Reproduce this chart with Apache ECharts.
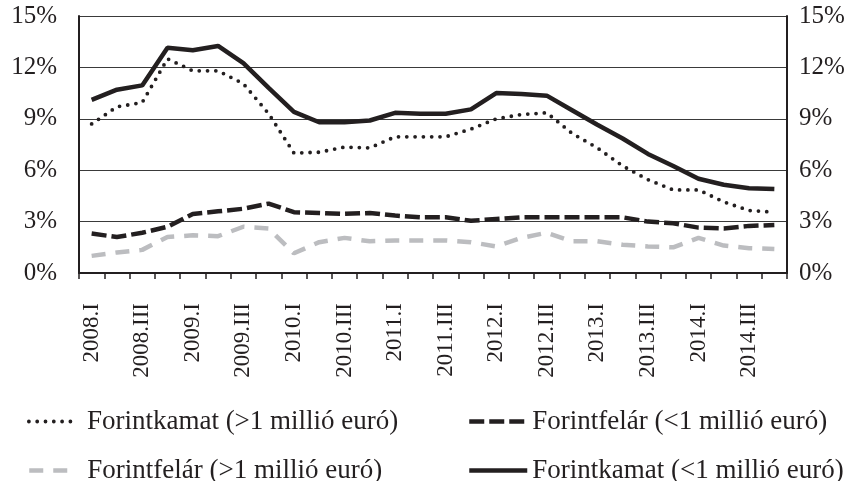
<!DOCTYPE html>
<html>
<head>
<meta charset="utf-8">
<script src="https://cdn.jsdelivr.net/npm/echarts@6/dist/echarts.min.js"></script>
<style>
    html, body { margin: 0; padding: 0; background: #fff; }
    #chart { width: 856px; height: 481px; }
</style>
</head>
<body>
<div id="chart"></div>
<script>
// quarters 2008.I - 2014.IV
var years = ["2008", "2009", "2010", "2011", "2012", "2013", "2014"];
var quarters = ["I", "II", "III", "IV"];
var categories = [];
for (var y = 0; y < years.length; y++) {
    for (var q = 0; q < quarters.length; q++) {
        categories.push(years[y] + "." + quarters[q]);
    }
}

var kamatNagy = [8.7, 9.7, 9.95, 12.5, 11.8, 11.8, 11.05, 9.3, 7.0, 7.05, 7.35, 7.3, 7.95, 7.95,
    7.95, 8.4, 9.0, 9.25, 9.35, 8.15, 7.3, 6.25, 5.45, 4.85, 4.85, 4.15, 3.65, 3.55];
var felarKicsi = [2.3, 2.1, 2.35, 2.7, 3.45, 3.6, 3.75, 4.05, 3.55, 3.5, 3.45, 3.5, 3.35, 3.25,
    3.25, 3.05, 3.15, 3.25, 3.25, 3.25, 3.25, 3.25, 3.0, 2.9, 2.65, 2.6, 2.75, 2.8];
var felarNagy = [1.0, 1.2, 1.35, 2.1, 2.2, 2.15, 2.7, 2.6, 1.15, 1.8, 2.05, 1.85, 1.9, 1.9,
    1.9, 1.8, 1.55, 2.05, 2.35, 1.85, 1.85, 1.65, 1.55, 1.5, 2.05, 1.6, 1.45, 1.4];
var kamatKicsi = [10.1, 10.7, 10.95, 13.15, 13.0, 13.25, 12.25, 10.8, 9.4, 8.8, 8.8, 8.9, 9.35, 9.3,
    9.3, 9.55, 10.5, 10.45, 10.35, 9.5, 8.65, 7.85, 6.95, 6.25, 5.5, 5.15, 4.95, 4.9];

var names = ["Forintkamat (>1 millió euró)", "Forintfelár (<1 millió euró)",
    "Forintfelár (>1 millió euró)", "Forintkamat (<1 millió euró)"];

var serif = "'Liberation Serif', 'DejaVu Serif', serif";
var textColor = "#231f20";
var black = "#231f20";
var grey = "#bcbdc0";

// line styles shared by series and legend icons
var styles = [
    { color: black, width: 3.8, type: [0, 8.3], cap: "round" },
    { color: black, width: 4.5, type: [15, 5] },
    { color: grey, width: 4.5, type: [14, 10] },
    { color: black, width: 4.5 }
];

var myChart = echarts.init(document.getElementById("chart"));

var yAxisBase = function (pos, margin) {
    return {
        type: "value",
        position: pos,
        min: 0,
        max: 15,
        interval: 3,
        axisLine: { show: true, lineStyle: { color: black, width: 2 } },
        axisTick: { show: false },
        splitLine: { show: pos == "left", lineStyle: { color: "#3a3a3a", width: 1.2 } },
        axisLabel: {
            color: textColor,
            fontFamily: serif,
            fontSize: 25,
            margin: margin,
            formatter: "{value}%"
        }
    };
};

// one legend box per entry, two rows by two columns
var legendBox = function (i, left, top, w, pad) {
    return {
        left: left,
        top: top,
        itemWidth: w,
        itemHeight: 14,
        itemStyle: { opacity: 0 },
        data: [{
            name: names[i],
            lineStyle: styles[i],
            itemStyle: { opacity: 0 },
            textStyle: { color: textColor, fontFamily: serif, fontSize: 27, lineHeight: 26, padding: [0, 0, 0, pad] }
        }]
    };
};

var option = {
    animation: false,
    grid: { left: 79, right: 69, top: 16, bottom: 208 },
    legend: [
        legendBox(0, 22, 403, 45, 8),
        legendBox(1, 462, 403, 58, 0),
        legendBox(2, 22, 452, 45, 8),
        legendBox(3, 462, 452, 58, 0)
    ],
    xAxis: {
        type: "category",
        boundaryGap: true,
        data: categories,
        axisLine: { lineStyle: { color: black, width: 2 } },
        axisTick: { show: true, interval: 0, length: 6, lineStyle: { color: black, width: 1.5 } },
        axisLabel: {
            interval: 1,
            rotate: 90,
            color: textColor,
            fontFamily: serif,
            fontSize: 23,
            margin: 30
        }
    },
    yAxis: [yAxisBase("left", 22), yAxisBase("right", 12)],
    series: [
        { name: names[0], type: "line", data: kamatNagy, symbol: "none", lineStyle: styles[0], itemStyle: { color: black } },
        { name: names[1], type: "line", data: felarKicsi, symbol: "none", lineStyle: styles[1], itemStyle: { color: black } },
        { name: names[2], type: "line", data: felarNagy, symbol: "none", lineStyle: styles[2], itemStyle: { color: grey } },
        { name: names[3], type: "line", data: kamatKicsi, symbol: "none", lineStyle: styles[3], itemStyle: { color: black } }
    ]
};

myChart.setOption(option);
window.onresize = myChart.resize;
</script>
</body>
</html>
